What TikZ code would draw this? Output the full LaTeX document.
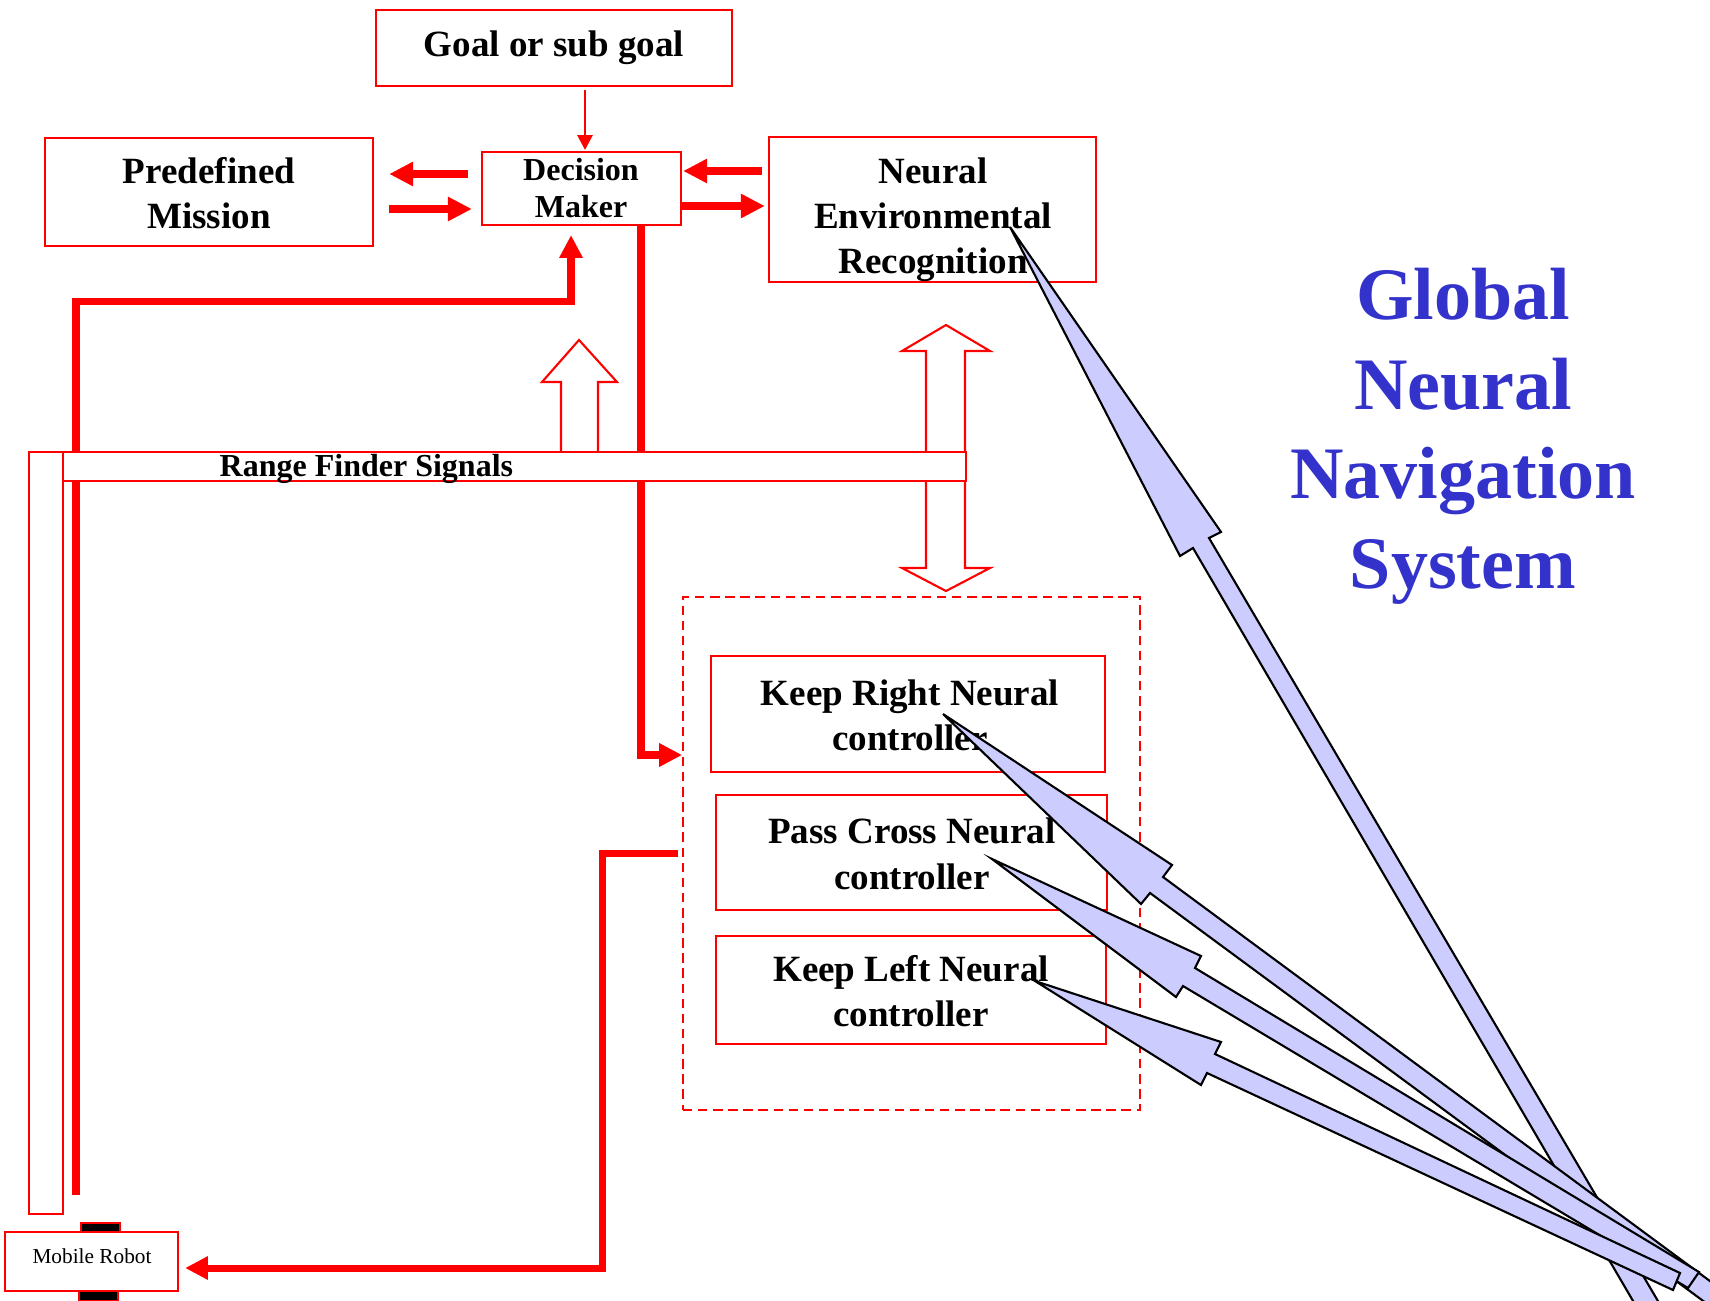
\documentclass[tikz,border=0pt]{standalone}
\usepackage{fontspec}
\setmainfont{Liberation Serif}
\usetikzlibrary{arrows.meta,calc}
\definecolor{rd}{RGB}{255,0,0}
\definecolor{lav}{RGB}{204,204,255}
\definecolor{navblue}{RGB}{51,51,204}

\begin{document}
\begin{tikzpicture}[x=0.01cm,y=-0.01cm,
  box/.style={draw=rd, line width=0.6pt, fill=white, inner sep=0pt, rectangle},
  dashbox/.style={draw=rd, line width=0.45pt, dash pattern=on 2.7pt off 1.6pt, inner sep=0pt, rectangle},
  lbl/.style={font=\fontsize{10.53}{12}\selectfont\bfseries, anchor=base, inner sep=0pt},
  lblsm/.style={font=\fontsize{9.1}{11}\selectfont\bfseries, anchor=base, inner sep=0pt},
  biglbl/.style={font=\fontsize{21.05}{25}\selectfont\bfseries, text=navblue, anchor=base, inner sep=0pt},
  link/.style={draw=rd, line width=2.28pt, -{Triangle[width=6.5pt,length=6.8pt]}},
  loop/.style={draw=rd, line width=2pt, -{Triangle[width=6.3pt,length=6.5pt]}},
  hollow/.style={draw=rd, line width=0.6pt, fill=white},
  callout/.style={fill=lav, draw=black, line width=0.6pt, line join=miter},
  wheel/.style={fill=black, draw=rd, line width=0.4pt, inner sep=0pt, rectangle}
]
\useasboundingbox (0,0) rectangle (1710,1300);

% ---------- boxes ----------
\node[box, minimum width=3.56cm, minimum height=0.76cm] (goal) at (554,48) {};
\node[lbl] (goal-t) at (554,57) {Goal or sub goal};

\node[box, minimum width=3.28cm, minimum height=1.08cm] (pm) at (209,192) {};
\node[lbl] (pm-t1) at (209,183) {Predefined};
\node[lbl] (pm-t2) at (209,228) {Mission};

\node[box, minimum width=1.99cm, minimum height=0.73cm] (dm) at (581.5,188.5) {};
\node[lblsm] (dm-t1) at (581,180) {Decision};
\node[lblsm] (dm-t2) at (581,218) {Maker};

\node[box, minimum width=3.27cm, minimum height=1.45cm] (ner) at (932.5,209.5) {};
\node[lbl] (ner-t1) at (933,183) {Neural};
\node[lbl] (ner-t2) at (933,228) {Environmental};
\node[lbl] (ner-t3) at (933,273) {Recognition};

\node[dashbox, minimum width=4.57cm, minimum height=5.13cm] (ctrl) at (911.5,853.5) {};

\node[box, minimum width=3.94cm, minimum height=1.16cm] (kr) at (908,714) {};
\node[lbl] (kr-t1) at (910,705) {Keep Right Neural};
\node[lbl] (kr-t2) at (910,750) {controller};

\node[box, minimum width=3.91cm, minimum height=1.15cm] (pc) at (911.5,852.5) {};
\node[lbl] (pc-t1) at (912,843) {Pass Cross Neural};
\node[lbl] (pc-t2) at (912,889) {controller};

\node[box, minimum width=3.90cm, minimum height=1.08cm] (kl) at (911,990) {};
\node[lbl] (kl-t1) at (911,981) {Keep Left Neural};
\node[lbl] (kl-t2) at (911,1026) {controller};

% ---------- arrows around the decision maker ----------
\draw[link] ($(dm.west)+(-13,-14.5)$) -- ($(pm.east)+(15,-18)$);
\draw[link] ($(pm.east)+(15,17)$) -- ($(dm.west)+(-9,20.5)$);
\draw[link] ($(ner.west)+(-6,-38.5)$) -- ($(dm.east)+(1,-17.5)$);
\draw[link] ($(dm.east)+(-1,17.5)$) -- ($(ner.west)+(-3,-3.5)$);
\draw[draw=rd, line width=0.57pt, -{Triangle[width=4.3pt,length=4.2pt]}]
  ($(goal.south)+(31,3)$) -- ($(dm.north)+(3.5,-1)$);

% ---------- feedback loops ----------
\node[wheel, minimum width=0.39cm, minimum height=0.09cm] (wt) at (100.5,1227.5) {};
\node[wheel, minimum width=0.39cm, minimum height=0.10cm] (wb) at (98.5,1296) {};
\node[box, minimum width=1.73cm, minimum height=0.59cm] (robot) at (91.5,1261.5) {};
\node[font=\fontsize{6.06}{7}\selectfont, anchor=base, inner sep=0pt] (robot-t) at (92,1263) {Mobile Robot};

\draw[loop] ($(robot.north)+(-15.5,-36)$) |- ($(dm.south)+(-10.5,75)$) -- ($(dm.south)+(-10.5,9)$);
\draw[loop] ($(dm.south)+(59.5,0)$) |- ($(ctrl.west)+(0,-98.5)$);
\draw[loop] ($(ctrl.west)+(-4,0)$) -| ($(robot.east)+(423,6.5)$) -- ($(robot.east)+(6,6.5)$);

% ---------- block arrows for the range signals ----------
\draw[hollow] (561,451) -- (561,382) -- (542,382) -- (579,340) -- (617,382) -- (598,382) -- (598,451);
\draw[hollow] (946,325) -- (990,351) -- (965,351) -- (965,568) -- (990,568) -- (946,591)
  -- (902,568) -- (926,568) -- (926,351) -- (902,351) -- cycle;

% ---------- range finder band ----------
\node[box, minimum width=9.03cm, minimum height=0.29cm] (band) at (514.5,466.5) {};
\node[lblsm, anchor=base west] (band-t) at (219,476) {Range Finder Signals};
\node[box, minimum width=0.34cm, minimum height=7.62cm] (side) at (46,833) {};

% ---------- title ----------
\node[biglbl] (title1) at (1463,319) {Global};
\node[biglbl] (title2) at (1463,409) {Neural};
\node[biglbl] (title3) at (1463,498) {Navigation};
\node[biglbl] (title4) at (1463,588) {System};

% ---------- pointer callouts ----------
\begin{scope}
\clip (0,0) rectangle (1710,1300);
\draw[callout] (1010,227) -- (1221,532) -- (1209,538) -- (1675,1330) -- (1650,1330)
  -- (1193,548) -- (1180,556) -- cycle;
\draw[callout] (943,714) -- (1172,865) -- (1163,877) -- (1760,1318) -- (1748,1334)
  -- (1150,893) -- (1141,904) -- cycle;
\draw[callout] (992,859) -- (1201,956) -- (1195,968) -- (1699,1272) -- (1688,1288)
  -- (1183,986) -- (1176,997) -- cycle;
\draw[callout] (1035,981) -- (1221,1042) -- (1215,1054) -- (1680,1273) -- (1673,1290)
  -- (1207,1073) -- (1201,1085) -- cycle;
\end{scope}
\end{tikzpicture}
\end{document}
